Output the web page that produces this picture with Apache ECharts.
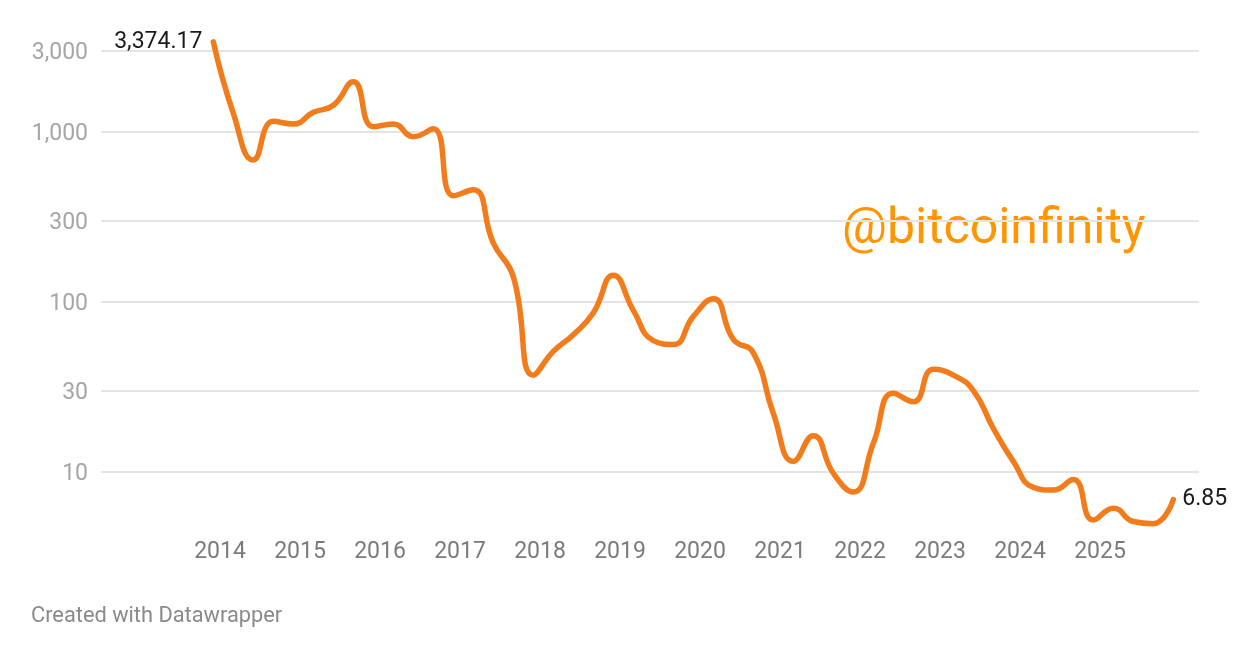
<!DOCTYPE html>
<html>
<head>
<meta charset="utf-8">
<script src="https://cdn.jsdelivr.net/npm/echarts@6/dist/echarts.min.js"></script>
<style>
  html, body { margin: 0; padding: 0; background: #fff; }
  #chart { width: 1260px; height: 660px; }
</style>
</head>
<body>
<div id="chart"></div>
<script>
// quarterly points
const months = [
  '2013-12', '2014-03', '2014-06', '2014-09', '2014-12', '2015-03', '2015-06', '2015-09',
  '2015-12', '2016-03', '2016-06', '2016-09', '2016-12', '2017-03', '2017-06', '2017-09',
  '2017-12', '2018-03', '2018-06', '2018-09', '2018-12', '2019-03', '2019-06', '2019-09',
  '2019-12', '2020-03', '2020-06', '2020-09', '2020-12', '2021-03', '2021-06', '2021-09',
  '2021-12', '2022-03', '2022-06', '2022-09', '2022-12', '2023-03', '2023-06', '2023-09',
  '2023-12', '2024-03', '2024-06', '2024-09', '2024-12', '2025-03', '2025-06', '2025-09',
  '2025-12'
]
const values = [
  3374.17, 1280, 682, 1150, 1110, 1300, 1430, 1968,
  1070, 1110, 935, 1040, 420, 455, 221, 140,
  37, 51, 64, 86, 143, 89, 59, 56,
  82, 104, 60, 50, 22, 11.5, 16.3, 9.8,
  7.6, 14.7, 28.9, 25.8, 40, 37, 30, 18,
  11.5, 8.1, 7.8, 9.0, 5.2, 6.1, 5.1, 4.95,
  6.85
]
const yearTicks = [2014, 2015, 2016, 2017, 2018, 2019, 2020, 2021, 2022, 2023, 2024, 2025]
const valueTicks = [10, 30, 100, 300, 1000, 3000]

const FONT = 'Roboto, "Noto Sans", sans-serif'
const LINE_COLOR = '#f27c1c'

const toYear = (m) => {
  const [y, mo] = m.split('-').map(Number)
  return y + (mo - 1) / 12
}

const seriesData = values.map((v, i) => {
  const item = { value: [toYear(months[i]), v] }
  if (i === 0) {
    item.label = { show: true, position: 'left', distance: 11, formatter: () => v.toLocaleString('en-US', { minimumFractionDigits: 2 }) }
  } else if (i === values.length - 1) {
    item.label = { show: true, position: 'right', distance: 9, formatter: () => String(v) }
  }
  return item
})

const chart = echarts.init(document.getElementById('chart'), null, { renderer: 'canvas' })

chart.setOption({
  animation: false,
  backgroundColor: '#ffffff',
  textStyle: { fontFamily: FONT },
  grid: { left: 101, right: 61, top: 37.1, bottom: 129.3, containLabel: false },
  xAxis: {
    type: 'value',
    min: 2012.5125,
    max: 2026.2375,
    axisLine: { show: false },
    axisTick: { show: false },
    splitLine: { show: false },
    axisLabel: {
      customValues: yearTicks,
      formatter: (v) => String(v),
      color: '#7b7b7b',
      fontSize: 23,
      fontFamily: FONT,
      margin: 10
    }
  },
  yAxis: {
    type: 'log',
    logBase: 10,
    min: 4.5,
    max: 3600,
    axisLine: { show: false },
    axisTick: { show: false, customValues: valueTicks },
    splitLine: { show: true, lineStyle: { color: '#e4e4e4', width: 2 } },
    axisLabel: {
      customValues: valueTicks,
      formatter: (v) => '{t|' + v.toLocaleString('en-US') + '}',
      margin: 13,
      rich: {
        t: { color: '#a6a6a6', fontSize: 23, fontFamily: FONT, padding: [6, 0, 0, 0] }
      }
    }
  },
  series: [{
    type: 'line',
    data: seriesData,
    smooth: 0.5,
    showSymbol: true,
    symbol: 'circle',
    symbolSize: 0,
    clip: false,
    lineStyle: { color: LINE_COLOR, width: 5.5, cap: 'round', join: 'round' },
    itemStyle: { color: LINE_COLOR },
    label: { show: false, color: '#1b1b1b', fontSize: 23, fontFamily: FONT },
    emphasis: { disabled: true }
  }],
  graphic: [
    {
      type: 'text',
      left: 842,
      top: 205,
      style: { text: '@bitcoinfinity', font: '50px ' + FONT, fill: '#ff9600' }
    },
    {
      type: 'text',
      left: 31,
      top: 606,
      style: { text: 'Created with Datawrapper', font: '21.8px ' + FONT, fill: '#8a8a8a' }
    }
  ]
})
</script>
</body>
</html>
